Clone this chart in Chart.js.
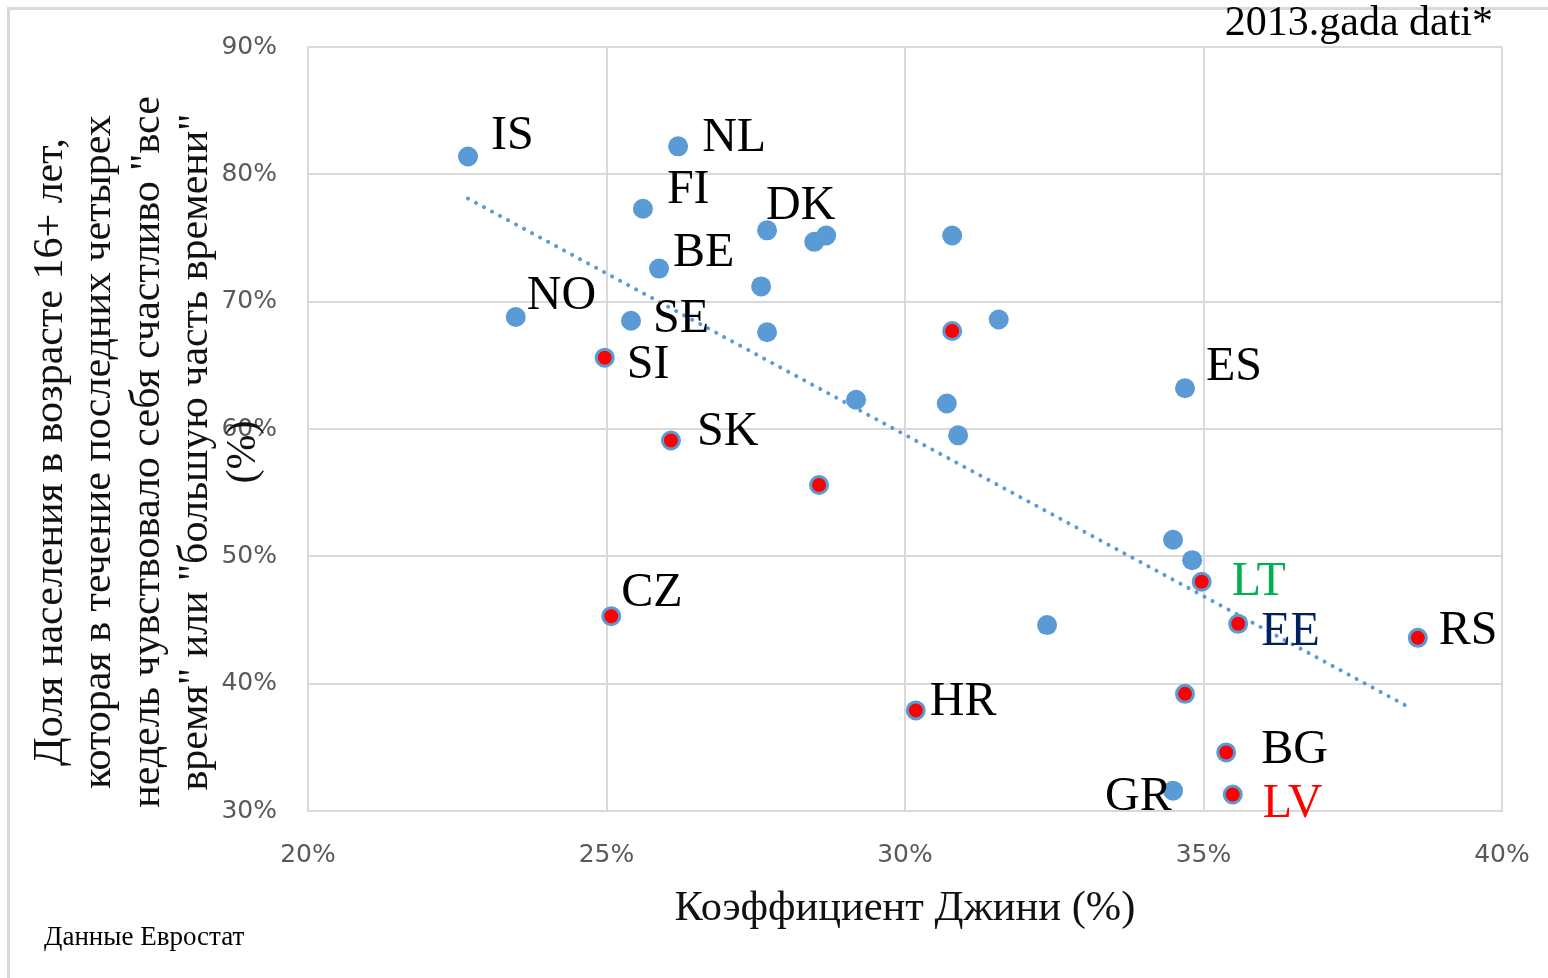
<!DOCTYPE html>
<html>
<head>
<meta charset="utf-8">
<script src="https://cdn.jsdelivr.net/npm/chart.js@4.4.0/dist/chart.umd.min.js"></script>
<style>
  html, body { margin: 0; padding: 0; background: #fff; }
  canvas { display: block; }
</style>
</head>
<body>
<canvas id="chart" width="1548" height="978"></canvas>
<script>
// Blue points (label '' = unlabeled country)
const westCodes = ['IS', 'NL', 'FI', 'DK', '', '', 'BE', '', 'NO', 'SE', '', '', '', 'ES', '', '', '', '', '', '', 'GR'];
const westGini  = [22.68, 26.2, 25.61, 27.69, 28.48, 28.68, 25.88, 27.59, 23.48, 25.41, 27.69, 30.79, 31.57, 34.69, 29.18, 30.70, 30.89, 34.49, 34.81, 32.38, 34.49];
const westHappy = [81.4, 82.2, 77.3, 75.6, 74.7, 75.2, 72.6, 71.2, 68.8, 68.5, 67.6, 75.2, 68.6, 63.2, 62.3, 62.0, 59.5, 51.3, 49.7, 44.6, 31.6];

// Red-centred points
const eastCodes = ['', 'SI', 'SK', '', 'LT', 'EE', 'RS', 'CZ', 'HR', '', 'BG', 'LV'];
const eastGini  = [30.79, 24.97, 26.08, 28.56, 34.97, 35.58, 38.59, 25.08, 30.18, 34.69, 35.38, 35.49];
const eastHappy = [67.7, 65.6, 59.1, 55.6, 48.0, 44.7, 43.6, 45.3, 37.9, 39.2, 34.6, 31.3];

// Linear trendline end points
const trendGini  = [22.68, 38.5];
const trendHappy = [78.1, 38.0];

const xTicks = [20, 25, 30, 35, 40];
const yTicks = [30, 40, 50, 60, 70, 80, 90];

const yTitleLines = [
  'Доля населения в возрасте 16+ лет,',
  'которая в течение последних четырех',
  'недель чувствовало себя счастливо "все',
  'время" или "большую часть времени"',
  '(%)'
];

const BLUE = '#5B9BD5';
const RED = '#FF0000';

// where each code label sits relative to its point (text left, baseline)
const labelOffsets = {
  IS: [23, -8], NL: [24, 5], FI: [24, -6], DK: [-1, -11], BE: [14, -3],
  NO: [11, -8], SE: [22, 11], SI: [22, 20], SK: [26, 5], ES: [21, -8],
  CZ: [10, -10], LT: [30, 13], EE: [23, 21], RS: [21, 6], HR: [14, 5],
  BG: [35, 11], GR: [-68, 19], LV: [30, 23]
};
const labelColors = { LT: '#00B050', EE: '#002060', LV: '#FF0000' };

function toPoints(xs, ys) {
  return xs.map((x, i) => ({ x: x, y: ys[i] }));
}

// Frame, titles, footnote and country codes
const decorPlugin = {
  id: 'decor',
  beforeDraw(chart) {
    const ctx = chart.ctx;
    ctx.save();
    ctx.fillStyle = '#fff';
    ctx.fillRect(0, 0, chart.width, chart.height);
    ctx.strokeStyle = '#d9d9d9';
    ctx.lineWidth = 3;
    ctx.beginPath();
    ctx.moveTo(8.5, chart.height);
    ctx.lineTo(8.5, 8.5);
    ctx.lineTo(chart.width, 8.5);
    ctx.stroke();
    ctx.restore();
  },
  afterDraw(chart) {
    const ctx = chart.ctx;
    const area = chart.chartArea;
    ctx.save();
    ctx.fillStyle = '#000';

    // top right note
    ctx.font = '42px "Liberation Serif", serif';
    ctx.textAlign = 'right';
    ctx.textBaseline = 'alphabetic';
    ctx.fillText('2013.gada dati*', 1493, 35);

    // x axis title
    ctx.font = '42.5px "Liberation Serif", serif';
    ctx.textAlign = 'center';
    ctx.fillStyle = '#111';
    ctx.fillText('Коэффициент Джини (%)', (area.left + area.right) / 2, 920);

    // source
    ctx.font = '27px "Liberation Serif", serif';
    ctx.textAlign = 'left';
    ctx.fillStyle = '#000';
    ctx.fillText('Данные Евростат', 44, 945);

    // y axis title, rotated
    ctx.save();
    ctx.font = '42px "Liberation Serif", serif';
    ctx.textAlign = 'center';
    ctx.fillStyle = '#111';
    yTitleLines.forEach((line, i) => {
      ctx.save();
      ctx.translate(62 + i * 48.3, 452);
      ctx.rotate(-Math.PI / 2);
      ctx.fillText(line, 0, 0);
      ctx.restore();
    });
    ctx.restore();

    // country codes
    ctx.font = '48px "Liberation Serif", serif';
    ctx.textAlign = 'left';
    ctx.textBaseline = 'alphabetic';
    [[0, westCodes], [1, eastCodes]].forEach(([di, codes]) => {
      const meta = chart.getDatasetMeta(di);
      codes.forEach((code, i) => {
        if (!code) return;
        const pt = meta.data[i];
        const off = labelOffsets[code] || [20, 0];
        ctx.fillStyle = labelColors[code] || '#000';
        ctx.fillText(code, pt.x + off[0], pt.y + off[1]);
      });
    });
    ctx.restore();
  }
};

new Chart(document.getElementById('chart'), {
  type: 'scatter',
  data: {
    datasets: [
      {
        label: 'west',
        data: toPoints(westGini, westHappy),
        backgroundColor: BLUE,
        borderColor: BLUE,
        borderWidth: 0,
        pointRadius: 10
      },
      {
        label: 'east',
        data: toPoints(eastGini, eastHappy),
        backgroundColor: RED,
        borderColor: BLUE,
        borderWidth: 3,
        pointRadius: 8.5
      },
      {
        label: 'trend',
        type: 'line',
        data: toPoints(trendGini, trendHappy),
        borderColor: BLUE,
        borderWidth: 4,
        borderDash: [0.1, 9],
        borderCapStyle: 'round',
        pointRadius: 0,
        fill: false
      }
    ]
  },
  options: {
    responsive: false,
    animation: false,
    events: [],
    layout: { padding: { top: 47, right: 46, left: 0, bottom: 0 } },
    plugins: {
      legend: { display: false },
      tooltip: { enabled: false }
    },
    scales: {
      x: {
        type: 'linear',
        min: 20,
        max: 40,
        afterFit(s) {
          s.height = 978 - 811;
          s.paddingLeft = 0;
          s.paddingRight = 0;
        },
        afterBuildTicks(s) { s.ticks = xTicks.map(v => ({ value: v })); },
        grid: { color: '#d9d9d9', lineWidth: 2, drawTicks: false },
        border: { display: true, color: '#d9d9d9', width: 2 },
        ticks: {
          padding: 29,
          color: '#595959',
          font: { family: 'DejaVu Sans', size: 25 },
          callback: v => v + '%'
        }
      },
      y: {
        type: 'linear',
        min: 30,
        max: 90,
        afterFit(s) {
          s.width = 308;
          s.paddingTop = 0;
          s.paddingBottom = 0;
        },
        afterBuildTicks(s) { s.ticks = yTicks.map(v => ({ value: v })); },
        grid: { color: '#d9d9d9', lineWidth: 2, drawTicks: false },
        border: { display: true, color: '#d9d9d9', width: 2 },
        ticks: {
          padding: 31,
          color: '#595959',
          font: { family: 'DejaVu Sans', size: 25 },
          callback: v => v + '%'
        }
      }
    }
  },
  plugins: [decorPlugin]
});
</script>
</body>
</html>
